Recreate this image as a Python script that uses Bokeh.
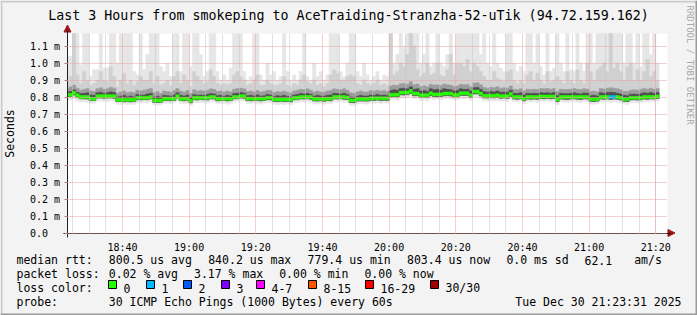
import math
from bokeh.plotting import figure
from bokeh.models import (ColumnDataSource, FixedTicker, LinearAxis, Grid, Range1d)
from bokeh.core.properties import value
from bokeh.embed import file_html
from bokeh.resources import INLINE

# ---------------- data ----------------
time_start = 23 + 31 / 60.0          # 18:23:31 as minutes after 18:00
time_end = time_start + 180.0        # 21:23:31

step_minute = list(range(23, 201))   # 1-minute RRD steps [m, m+1), minutes after 18:00

median = [
    0.813, 0.813, 0.825, 0.81, 0.80, 0.80, 0.80, 0.79, 0.79, 0.805,
    0.805, 0.805, 0.805, 0.805, 0.805, 0.784, 0.784, 0.784, 0.784, 0.784,
    0.784, 0.795, 0.795, 0.795, 0.795, 0.80, 0.78, 0.78, 0.78, 0.79,
    0.79, 0.79, 0.79, 0.805, 0.79, 0.79, 0.79, 0.778, 0.795, 0.795,
    0.795, 0.795, 0.795, 0.80, 0.80, 0.79, 0.79, 0.79, 0.79, 0.79,
    0.80, 0.80, 0.805, 0.805, 0.79, 0.79, 0.79, 0.79, 0.79, 0.79,
    0.795, 0.795, 0.785, 0.785, 0.785, 0.785, 0.785, 0.785, 0.795, 0.795,
    0.80, 0.80, 0.80, 0.80, 0.788, 0.788, 0.788, 0.788, 0.79, 0.79,
    0.80, 0.80, 0.80, 0.80, 0.797, 0.78, 0.78, 0.788, 0.788, 0.788,
    0.788, 0.792, 0.792, 0.792, 0.792, 0.792, 0.792, 0.813, 0.813, 0.813,
    0.826, 0.826, 0.826, 0.836, 0.82, 0.82, 0.81, 0.81, 0.81, 0.822,
    0.815, 0.815, 0.815, 0.82, 0.82, 0.82, 0.812, 0.812, 0.822, 0.822,
    0.822, 0.81, 0.832, 0.832, 0.82, 0.807, 0.807, 0.807, 0.807, 0.81,
    0.805, 0.805, 0.805, 0.817, 0.80, 0.80, 0.80, 0.79, 0.80, 0.80,
    0.80, 0.80, 0.803, 0.803, 0.803, 0.803, 0.803, 0.785, 0.80, 0.80,
    0.80, 0.80, 0.80, 0.80, 0.80, 0.80, 0.80, 0.787, 0.787, 0.787,
    0.80, 0.80, 0.80, 0.80, 0.80, 0.80, 0.795, 0.787, 0.787, 0.795,
    0.795, 0.795, 0.795, 0.80, 0.80, 0.80, 0.80, 0.803,
]

smoke_min = [
    0.78, 0.782, 0.79, 0.775, 0.77, 0.772, 0.768, 0.762, 0.763, 0.775,
    0.776, 0.774, 0.772, 0.778, 0.775, 0.758, 0.756, 0.76, 0.755, 0.758,
    0.757, 0.766, 0.765, 0.768, 0.764, 0.772, 0.755, 0.752, 0.755, 0.762,
    0.763, 0.76, 0.765, 0.775, 0.762, 0.76, 0.763, 0.75, 0.767, 0.765,
    0.768, 0.766, 0.764, 0.772, 0.77, 0.762, 0.76, 0.763, 0.758, 0.762,
    0.77, 0.773, 0.776, 0.775, 0.762, 0.76, 0.764, 0.762, 0.758, 0.763,
    0.767, 0.765, 0.757, 0.755, 0.758, 0.756, 0.76, 0.755, 0.766, 0.768,
    0.772, 0.77, 0.773, 0.768, 0.76, 0.758, 0.762, 0.757, 0.762, 0.76,
    0.772, 0.77, 0.774, 0.768, 0.768, 0.752, 0.75, 0.758, 0.762, 0.76,
    0.758, 0.764, 0.762, 0.766, 0.76, 0.765, 0.763, 0.782, 0.785, 0.78,
    0.795, 0.793, 0.797, 0.805, 0.79, 0.792, 0.78, 0.782, 0.778, 0.79,
    0.785, 0.788, 0.784, 0.79, 0.792, 0.788, 0.782, 0.784, 0.792, 0.79,
    0.793, 0.78, 0.80, 0.802, 0.79, 0.778, 0.776, 0.78, 0.777, 0.78,
    0.776, 0.778, 0.774, 0.786, 0.772, 0.77, 0.773, 0.76, 0.772, 0.77,
    0.772, 0.768, 0.775, 0.773, 0.776, 0.772, 0.774, 0.755, 0.772, 0.77,
    0.768, 0.772, 0.773, 0.77, 0.768, 0.774, 0.772, 0.758, 0.757, 0.76,
    0.772, 0.77, 0.773, 0.768, 0.772, 0.77, 0.765, 0.758, 0.756, 0.766,
    0.768, 0.765, 0.768, 0.772, 0.77, 0.773, 0.772, 0.775,
]

smoke_p25 = [
    0.802, 0.803, 0.812, 0.798, 0.79, 0.789, 0.788, 0.779, 0.78, 0.794,
    0.795, 0.793, 0.794, 0.795, 0.793, 0.773, 0.774, 0.772, 0.773, 0.772,
    0.773, 0.784, 0.783, 0.785, 0.784, 0.789, 0.769, 0.768, 0.769, 0.779,
    0.779, 0.778, 0.78, 0.794, 0.78, 0.778, 0.779, 0.766, 0.784, 0.783,
    0.785, 0.784, 0.783, 0.789, 0.788, 0.778, 0.779, 0.78, 0.777, 0.779,
    0.789, 0.79, 0.794, 0.793, 0.779, 0.778, 0.78, 0.779, 0.777, 0.78,
    0.784, 0.783, 0.774, 0.773, 0.775, 0.773, 0.774, 0.772, 0.784, 0.785,
    0.789, 0.788, 0.79, 0.787, 0.777, 0.776, 0.778, 0.775, 0.779, 0.778,
    0.789, 0.788, 0.79, 0.787, 0.786, 0.768, 0.767, 0.776, 0.777, 0.776,
    0.776, 0.781, 0.78, 0.782, 0.779, 0.781, 0.78, 0.80, 0.802, 0.80,
    0.813, 0.812, 0.814, 0.822, 0.807, 0.808, 0.798, 0.799, 0.797, 0.809,
    0.803, 0.802, 0.803, 0.807, 0.808, 0.806, 0.80, 0.801, 0.81, 0.809,
    0.81, 0.798, 0.818, 0.819, 0.807, 0.795, 0.794, 0.796, 0.795, 0.798,
    0.793, 0.794, 0.792, 0.804, 0.788, 0.787, 0.789, 0.778, 0.788, 0.787,
    0.788, 0.787, 0.791, 0.79, 0.792, 0.79, 0.791, 0.773, 0.788, 0.787,
    0.786, 0.788, 0.789, 0.787, 0.786, 0.789, 0.788, 0.775, 0.774, 0.776,
    0.788, 0.787, 0.789, 0.786, 0.788, 0.787, 0.783, 0.775, 0.774, 0.783,
    0.784, 0.782, 0.784, 0.788, 0.787, 0.789, 0.788, 0.791,
]

smoke_p60 = [
    0.83, 0.832, 0.842, 0.828, 0.82, 0.822, 0.825, 0.812, 0.81, 0.825,
    0.828, 0.822, 0.825, 0.83, 0.826, 0.80, 0.805, 0.81, 0.802, 0.806,
    0.80, 0.815, 0.81, 0.812, 0.818, 0.822, 0.80, 0.805, 0.798, 0.81,
    0.808, 0.805, 0.812, 0.825, 0.81, 0.806, 0.812, 0.795, 0.815, 0.81,
    0.812, 0.81, 0.815, 0.82, 0.818, 0.808, 0.81, 0.805, 0.81, 0.806,
    0.82, 0.822, 0.826, 0.822, 0.808, 0.81, 0.806, 0.812, 0.805, 0.808,
    0.815, 0.812, 0.802, 0.808, 0.805, 0.81, 0.803, 0.80, 0.812, 0.815,
    0.82, 0.818, 0.822, 0.816, 0.805, 0.81, 0.806, 0.804, 0.81, 0.812,
    0.822, 0.82, 0.818, 0.822, 0.815, 0.80, 0.798, 0.805, 0.81, 0.806,
    0.806, 0.812, 0.81, 0.815, 0.81, 0.812, 0.808, 0.838, 0.842, 0.84,
    0.85, 0.852, 0.848, 0.86, 0.845, 0.848, 0.835, 0.838, 0.833, 0.848,
    0.842, 0.845, 0.84, 0.848, 0.845, 0.843, 0.836, 0.838, 0.848, 0.845,
    0.846, 0.835, 0.855, 0.856, 0.845, 0.832, 0.828, 0.833, 0.83, 0.835,
    0.828, 0.83, 0.828, 0.84, 0.822, 0.82, 0.825, 0.812, 0.822, 0.82,
    0.822, 0.82, 0.826, 0.823, 0.825, 0.822, 0.826, 0.808, 0.822, 0.82,
    0.82, 0.822, 0.825, 0.82, 0.818, 0.823, 0.822, 0.808, 0.81, 0.806,
    0.825, 0.822, 0.826, 0.828, 0.826, 0.822, 0.818, 0.81, 0.808, 0.816,
    0.818, 0.815, 0.82, 0.825, 0.822, 0.826, 0.822, 0.826,
]

smoke_p75 = [
    0.85, 0.86, 0.87, 0.852, 0.84, 0.845, 0.85, 0.835, 0.832, 0.848,
    0.855, 0.845, 0.848, 0.858, 0.852, 0.822, 0.83, 0.835, 0.825, 0.83,
    0.825, 0.84, 0.835, 0.84, 0.845, 0.85, 0.826, 0.832, 0.82, 0.835,
    0.832, 0.828, 0.838, 0.85, 0.835, 0.83, 0.838, 0.82, 0.842, 0.836,
    0.838, 0.835, 0.84, 0.848, 0.845, 0.832, 0.835, 0.83, 0.835, 0.83,
    0.845, 0.85, 0.852, 0.848, 0.832, 0.835, 0.83, 0.838, 0.83, 0.833,
    0.84, 0.838, 0.826, 0.832, 0.83, 0.835, 0.828, 0.824, 0.836, 0.84,
    0.845, 0.842, 0.848, 0.84, 0.83, 0.835, 0.83, 0.828, 0.835, 0.838,
    0.848, 0.845, 0.842, 0.848, 0.84, 0.825, 0.822, 0.83, 0.835, 0.83,
    0.83, 0.838, 0.835, 0.84, 0.835, 0.838, 0.832, 0.865, 0.87, 0.868,
    0.878, 0.88, 0.875, 0.89, 0.872, 0.876, 0.862, 0.866, 0.86, 0.875,
    0.87, 0.872, 0.868, 0.876, 0.872, 0.87, 0.862, 0.865, 0.875, 0.872,
    0.874, 0.86, 0.882, 0.884, 0.872, 0.858, 0.852, 0.858, 0.855, 0.86,
    0.852, 0.855, 0.852, 0.865, 0.845, 0.842, 0.848, 0.835, 0.846, 0.844,
    0.846, 0.844, 0.85, 0.848, 0.85, 0.846, 0.85, 0.832, 0.846, 0.844,
    0.844, 0.846, 0.85, 0.845, 0.842, 0.848, 0.846, 0.832, 0.835, 0.83,
    0.85, 0.846, 0.852, 0.855, 0.852, 0.848, 0.842, 0.834, 0.832, 0.84,
    0.842, 0.84, 0.845, 0.85, 0.846, 0.852, 0.846, 0.85,
]

smoke_p90 = [
    0.90, 0.92, 1.20, 0.93, 0.88, 0.95, 0.90, 0.87, 0.88, 0.90,
    0.95, 0.90, 0.89, 0.98, 0.92, 0.86, 0.90, 0.94, 0.88, 0.90,
    0.87, 0.89, 0.92, 0.90, 0.90, 0.95, 0.88, 0.92, 0.87, 0.88,
    0.90, 0.87, 0.92, 0.95, 0.88, 0.93, 0.90, 0.86, 0.95, 0.92,
    0.90, 0.88, 0.89, 0.96, 0.92, 0.88, 0.87, 0.88, 0.87, 0.88,
    0.93, 0.95, 0.92, 0.90, 0.87, 0.88, 0.90, 0.93, 0.87, 0.87,
    0.90, 0.88, 0.87, 0.87, 0.88, 0.92, 0.87, 0.86, 0.88, 0.87,
    0.90, 0.93, 0.89, 0.88, 0.90, 0.87, 0.88, 0.86, 0.88, 0.93,
    0.96, 0.94, 0.90, 0.90, 0.92, 0.93, 0.92, 0.88, 0.87, 0.90,
    0.88, 0.87, 0.88, 0.90, 0.87, 0.88, 0.87, 1.20, 0.93, 0.95,
    1.00, 0.98, 1.05, 1.20, 1.10, 0.96, 0.92, 0.94, 1.00, 0.93,
    0.94, 1.00, 0.93, 0.92, 0.96, 1.05, 0.93, 1.00, 1.00, 0.98,
    1.02, 0.95, 1.00, 0.98, 0.95, 0.92, 0.90, 0.90, 0.95, 0.91,
    0.90, 0.89, 0.95, 0.96, 0.90, 0.88, 0.90, 0.88, 0.93, 0.95,
    0.90, 0.94, 0.90, 0.88, 0.95, 0.89, 0.90, 0.92, 0.90, 0.88,
    0.95, 0.90, 0.88, 0.96, 0.90, 0.88, 1.00, 0.95, 0.90, 0.96,
    0.98, 1.00, 0.95, 1.20, 0.97, 1.00, 0.95, 0.90, 0.98, 1.00,
    0.90, 0.96, 0.90, 0.95, 1.02, 0.92, 0.95, 0.90,
]

smoke_max = [
    1.04, 1.04, 1.20, 1.20, 0.99, 1.20, 1.20, 0.92, 0.96, 0.96,
    1.20, 0.97, 0.97, 1.20, 1.20, 1.00, 1.20, 1.20, 1.20, 1.20,
    0.95, 0.93, 1.20, 0.96, 1.05, 1.20, 1.20, 1.20, 0.98, 0.95,
    1.00, 0.92, 1.20, 1.20, 0.95, 1.20, 1.20, 0.98, 1.20, 1.20,
    1.05, 0.92, 0.95, 1.20, 1.20, 0.95, 0.90, 0.93, 0.90, 0.97,
    1.20, 1.20, 1.20, 0.95, 0.90, 0.92, 1.20, 1.20, 0.93, 0.90,
    1.00, 0.93, 0.95, 0.90, 0.92, 1.20, 0.95, 0.90, 0.93, 0.90,
    0.95, 1.20, 0.92, 0.90, 1.00, 0.92, 0.95, 0.90, 0.93, 1.20,
    1.20, 1.20, 0.95, 0.92, 1.00, 1.20, 1.20, 0.95, 0.92, 1.00,
    0.93, 0.90, 0.92, 0.95, 0.90, 0.93, 0.92, 1.20, 1.00, 1.05,
    1.20, 1.10, 1.20, 1.20, 1.20, 1.20, 1.00, 1.05, 1.20, 0.98,
    1.00, 1.20, 1.00, 0.98, 1.05, 1.20, 1.00, 1.20, 1.20, 1.20,
    1.20, 1.20, 1.20, 1.20, 1.05, 1.20, 1.00, 0.98, 1.20, 1.00,
    0.97, 0.95, 1.20, 1.20, 1.00, 0.95, 0.98, 0.95, 1.20, 1.20,
    1.00, 1.20, 0.98, 0.93, 1.20, 0.95, 0.97, 1.20, 1.00, 0.95,
    1.20, 0.96, 0.95, 1.20, 1.00, 0.95, 1.20, 1.20, 1.00, 1.20,
    1.20, 1.20, 1.20, 1.20, 1.20, 1.20, 1.20, 1.00, 1.20, 1.20,
    1.00, 1.20, 0.98, 1.20, 1.20, 1.05, 1.20, 1.00,
]

# loss class index per step (0 = no loss, 1 = 1 of 30 lost, ...)
loss_class = [
    0, 0, 0, 0, 0, 0, 0, 0, 0, 0,
    0, 0, 0, 0, 0, 0, 0, 0, 0, 0,
    0, 0, 0, 0, 0, 0, 0, 0, 0, 0,
    0, 0, 0, 0, 0, 0, 0, 0, 0, 0,
    0, 0, 0, 0, 0, 0, 0, 0, 0, 0,
    0, 0, 0, 0, 0, 0, 0, 0, 0, 0,
    0, 0, 0, 0, 0, 0, 0, 0, 0, 0,
    0, 0, 0, 0, 0, 0, 0, 0, 0, 0,
    0, 0, 0, 0, 0, 0, 0, 0, 0, 0,
    0, 0, 0, 0, 0, 0, 0, 0, 0, 0,
    0, 0, 0, 0, 0, 0, 0, 0, 0, 0,
    0, 0, 0, 0, 0, 0, 0, 0, 0, 0,
    0, 0, 0, 0, 0, 0, 0, 0, 0, 0,
    0, 0, 0, 0, 0, 0, 0, 0, 0, 0,
    0, 0, 0, 0, 0, 0, 0, 0, 0, 0,
    0, 0, 0, 0, 0, 0, 0, 0, 0, 0,
    0, 0, 0, 1, 1, 0, 0, 0, 0, 0,
    0, 0, 0, 0, 0, 0, 0, 0,
]

loss_labels = ["0", "1", "2", "3", "4-7", "8-15", "16-29", "30/30"]
loss_colors = ["#26ff00", "#00b8ff", "#0059ff", "#7e00ff",
               "#ff00ff", "#ff5500", "#ff0000", "#a10000"]

x_tick_minutes = [40, 60, 80, 100, 120, 140, 160, 180, 200]
x_tick_labels = ["18:40", "19:00", "19:20", "19:40", "20:00",
                 "20:20", "20:40", "21:00", "21:20"]
x_minor_minutes = [25, 30, 35, 45, 50, 55, 65, 70, 75, 85, 90, 95, 105, 110, 115,
                   125, 130, 135, 145, 150, 155, 165, 170, 175, 185, 190, 195, 200]
y_ticks = [0.0, 0.1, 0.2, 0.3, 0.4, 0.5, 0.6, 0.7, 0.8, 0.9, 1.0, 1.1]
y_tick_labels = ["0.0\u00a0\u00a0", "0.1 m", "0.2 m", "0.3 m", "0.4 m", "0.5 m",
                 "0.6 m", "0.7 m", "0.8 m", "0.9 m", "1.0 m", "1.1 m"]

rtt_avg_us, rtt_max_us, rtt_min_us, rtt_now_us = 800.5, 840.2, 779.4, 803.4
rtt_sd_ms, rtt_ams = 0.0, 62.1
loss_avg, loss_max, loss_min, loss_now = 0.02, 3.17, 0.00, 0.00

title_text = "Last 3 Hours from smokeping to AceTraiding-Stranzha-52-uTik (94.72.159.162)"
probe_text = "30 ICMP Echo Pings (1000 Bytes) every 60s"
date_text = "Tue Dec 30 21:23:31 2025"
side_text = "RRDTOOL / TOBI OETIKER"

# ---------------- layout ----------------
W, H = 697, 315
BOX_L, BOX_R, BOX_T, BOX_B = 67, 667, 33, 233   # graph canvas in page pixels
PX_PER_MIN = (BOX_R - BOX_L) / (time_end - time_start)
ZERO_Y = 232.5                                   # pixel row centre of the 0 line
PX_PER_MS = 170.0
FONT = "DejaVu Sans Mono"
ROW_Y = [259.5, 273.5, 287.5, 301.5]             # legend text baselines


def t_of_px(X):
    return time_start + (X - BOX_L) / PX_PER_MIN


def ms_of_px(Y):
    return (ZERO_Y - Y) / PX_PER_MS


y_top = ms_of_px(BOX_T)
y_bot = ms_of_px(BOX_B)

# page in pixel coordinates; data through the "time"/"ms" ranges
p = figure(width=W, height=H, x_range=Range1d(0, W), y_range=Range1d(H, 0),
           x_axis_type=None, y_axis_type=None, output_backend="svg",
           toolbar_location=None, min_border=0)
p.outline_line_color = None
p.background_fill_color = "#F3F3F3"
p.border_fill_color = "#F3F3F3"
p.extra_x_ranges = {"time": Range1d(t_of_px(0), t_of_px(W))}
p.extra_y_ranges = {"ms": Range1d(ms_of_px(H), ms_of_px(0))}
D = dict(x_range_name="time", y_range_name="ms")

# 3-D frame of the image
p.quad(left=[0, 0, W - 2, 0], right=[W, 2, W, W], top=[0, 0, 0, H - 2], bottom=[2, H, H, H],
       fill_color=["#CBCBCB", "#CBCBCB", "#999999", "#999999"], line_color=None)

# white graph canvas
p.quad(left=[time_start], right=[time_end], bottom=[y_bot], top=[y_top],
       fill_color="white", line_color=None, **D)

src = ColumnDataSource(dict(
    left=[max(m, time_start) for m in step_minute],
    right=[m + 1 for m in step_minute],
    smoke_min=smoke_min, smoke_p25=smoke_p25, smoke_p60=smoke_p60,
    smoke_p75=[min(v, y_top) for v in smoke_p75],
    smoke_p90=[min(v, y_top) for v in smoke_p90],
    smoke_max=[min(v, y_top) for v in smoke_max],
    med_lo=[v - 1.5 / PX_PER_MS for v in median],
    med_hi=[v + 1.5 / PX_PER_MS for v in median],
    med_color=[loss_colors[c] for c in loss_class],
))

bands = [("smoke_min", "smoke_max", "#E6E6E6"),
         ("smoke_p25", "smoke_p90", "#D0D0D0"),
         ("smoke_p25", "smoke_p75", "#9C9C9C"),
         ("smoke_p25", "smoke_p60", "#4E4E4E")]
for lo, hi, col in bands:
    p.quad(left="left", right="right", bottom=lo, top=hi, source=src,
           fill_color=col, line_color=col, line_width=0.5, **D)

p.quad(left="left", right="right", bottom="med_lo", top="med_hi", source=src,
       fill_color="med_color", line_color="med_color", line_width=0.5, **D)

# grid, drawn over the graph like rrdtool
xt = FixedTicker(ticks=x_tick_minutes, minor_ticks=x_minor_minutes)
yt = FixedTicker(ticks=y_ticks)
xgrid = Grid(dimension=0, ticker=xt, bounds=(time_start, time_end),
             cross_bounds=(y_bot, y_top),
             grid_line_color="#E9A0A0", grid_line_dash="1 1",
             minor_grid_line_color="#C4C4C4", minor_grid_line_dash="1 1",
             level="guide", **D)
ygrid = Grid(dimension=1, ticker=yt, bounds=(0.05, y_top),
             cross_bounds=(time_start, time_end),
             grid_line_color="#E9A0A0", grid_line_dash="1 1",
             level="guide", **D)
p.add_layout(xgrid)
p.add_layout(ygrid)

# axes (fixed inside the page, through the data ranges)
xaxis = LinearAxis(ticker=xt, fixed_location=0.0,
                   bounds=(t_of_px(63), t_of_px(670)),
                   major_label_overrides=dict(zip(x_tick_minutes, x_tick_labels)),
                   major_label_text_font=FONT, major_label_text_font_size="10px",
                   major_label_text_color="black", major_label_standoff=5,
                   major_tick_out=0, major_tick_in=0, major_tick_line_color=None,
                   minor_tick_line_color=None, axis_line_color="#000000",
                   axis_line_width=1, **D)
yaxis = LinearAxis(ticker=yt, fixed_location=t_of_px(66.5),
                   bounds=(ms_of_px(237), ms_of_px(29)),
                   major_label_overrides=dict(zip(y_ticks, y_tick_labels)),
                   major_label_text_font=FONT, major_label_text_font_size="10px",
                   major_label_text_color="black", major_label_standoff=4,
                   major_tick_out=3, major_tick_in=0, major_tick_line_color="#B08080",
                   minor_tick_line_color=None, axis_line_color="#222222",
                   axis_line_width=1,
                   axis_label="Seconds", axis_label_text_font=FONT,
                   axis_label_text_font_size="11.5px", axis_label_text_font_style="normal",
                   axis_label_text_color="black", axis_label_standoff=10, **D)
p.add_layout(xaxis, "below")
p.add_layout(yaxis, "left")

# axis arrows (page pixels)
ARROW = "#9E1414"
p.patches(xs=[[667.5, 674.5, 667.5], [63.5, 67, 70.5]],
          ys=[[229, 232.5, 236], [31.5, 24.5, 31.5]],
          fill_color=ARROW, fill_alpha=1.0, line_color=ARROW, line_width=1)

# texts
TXT = dict(text_font=value(FONT), text_color="black", text_baseline="alphabetic")
p.text(x=[348], y=[14.5], text=[title_text], text_align="center",
       text_font_size=value("13.3px"), **TXT)
p.text(x=[689], y=[5], text=[side_text], angle=-math.pi / 2, text_align="left",
       text_baseline="middle", text_font=value(FONT), text_color="#A8A8A8",
       text_font_size=value("9px"))

LX, CH = 16, 7.1
legend_items = [
    ("median rtt:", 0, 0), (f"{rtt_avg_us:.1f} us avg", 13, 0),
    (f"{rtt_max_us:.1f} us max", 27, 0), (f"{rtt_min_us:.1f} us min", 41, 0),
    (f"{rtt_now_us:.1f} us now", 55, 0), (f"{rtt_sd_ms:.1f} ms sd", 69, 0),
    (f"{rtt_ams:.1f}", 80, 0), ("am/s", 87, 0),
    ("packet loss:", 0, 1), (f"{loss_avg:.2f} % avg", 13, 1),
    (f"{loss_max:.2f} % max", 25, 1), (f"{loss_min:.2f} % min", 37, 1),
    (f"{loss_now:.2f} % now", 49, 1),
    ("loss color:", 0, 2), ("probe:", 0, 3), (probe_text, 13, 3),
]
p.text(x=[LX + c * CH for _, c, _ in legend_items],
       y=[ROW_Y[r] for _, _, r in legend_items],
       text=[t for t, _, _ in legend_items], text_align="left",
       text_font_size=value("11.5px"), **TXT)
p.text(x=[681], y=[ROW_Y[3]], text=[date_text], text_align="right",
       text_font_size=value("11.5px"), **TXT)

swatch_x = [108, 146, 183, 221, 256, 308, 365, 430]
p.quad(left=swatch_x, right=[x + 8 for x in swatch_x],
       top=[ROW_Y[2] - 7.5] * 8, bottom=[ROW_Y[2] + 0.5] * 8,
       fill_color=loss_colors, line_color="black", line_width=1)
p.text(x=[x + 15 for x in swatch_x], y=[ROW_Y[2]] * 8, text=loss_labels, text_align="left",
       text_font_size=value("11.5px"), **TXT)

open("out.html", "w").write(file_html(p, INLINE))
